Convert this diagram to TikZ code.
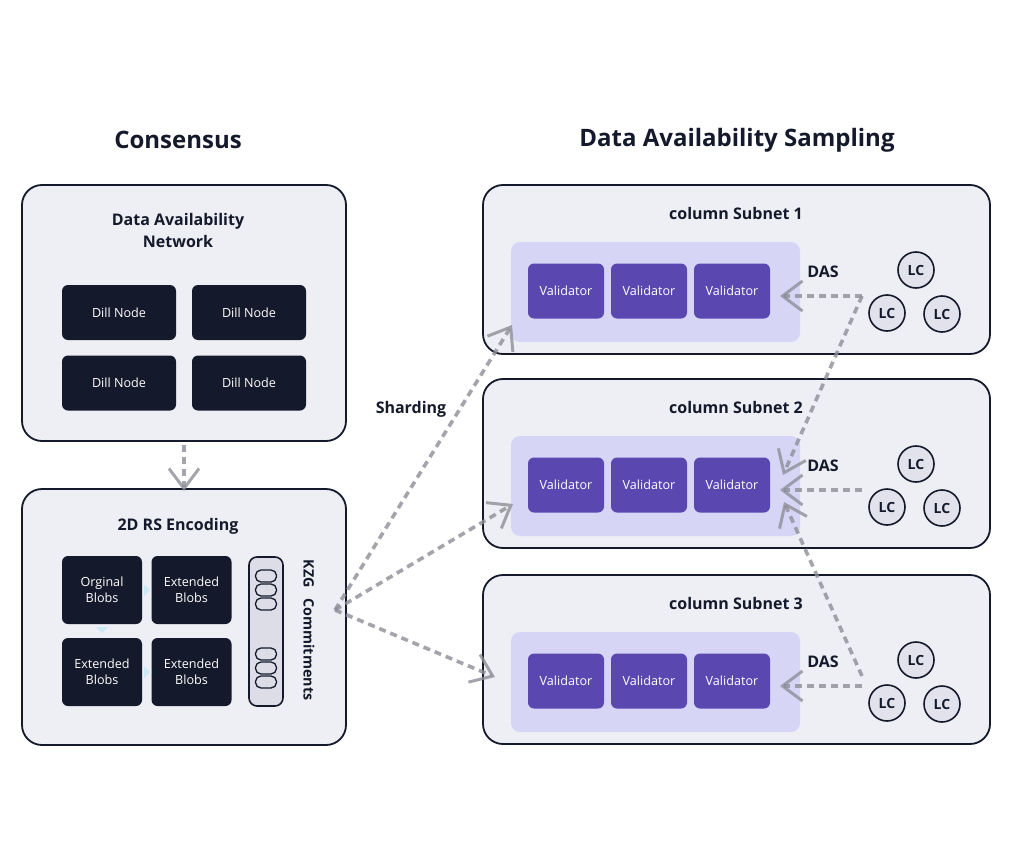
\documentclass[tikz,border=0pt]{standalone}
\usepackage{fontspec}
\setmainfont{Open Sans}
\usetikzlibrary{arrows.meta}
\definecolor{ink}{HTML}{141A2B}
\definecolor{panel}{HTML}{EEEFF4}
\definecolor{lav}{HTML}{D6D5F6}
\definecolor{vio}{HTML}{5A47B0}
\definecolor{lcfill}{HTML}{E1E2EB}
\definecolor{kzgfill}{HTML}{DCDDE6}
\definecolor{flowgray}{HTML}{8E8E98}
\tikzset{
  panelbox/.style={draw=ink, line width=1.8pt, fill=panel, rounded corners=20pt},
  darkbox/.style={fill=ink, rounded corners=6pt, text=white, font=\fontsize{12.6}{15.5}\selectfont, align=center},
  valbox/.style={fill=vio, rounded corners=6pt, text=white, font=\fontsize{12.6}{15}\selectfont, minimum width=76pt, minimum height=55pt},
  lavbox/.style={fill=lav, rounded corners=9pt, minimum width=289pt, minimum height=100pt},
  lcnode/.style={circle, draw=ink, line width=1.6pt, fill=lcfill, minimum size=36pt, inner sep=0pt, font=\bfseries\fontsize{14}{16}\selectfont, text=ink},
  heading/.style={font=\bfseries\fontsize{24}{28}\selectfont, text=ink},
  boxtitle/.style={font=\bfseries\fontsize{16}{22}\selectfont, text=ink, align=center},
  label/.style={font=\bfseries\fontsize{16}{18}\selectfont, text=ink},
  flow/.style={draw=flowgray, draw opacity=0.8, line width=3.6pt, dash pattern=on 7pt off 5pt,
    -{Straight Barb[length=20pt,width=30pt,line width=3pt]}},
  pill/.style={draw=ink, line width=1.3pt, rounded corners=5.5pt, minimum width=21pt, minimum height=12pt, inner sep=0pt},
}
\begin{document}
\begin{tikzpicture}[x=1pt,y=-1pt]
\useasboundingbox (0,0) rectangle (1020,864);
\fill[white] (0,0) rectangle (1020,864);

% headings
\node[heading] (hcons) at (178,140) {Consensus};
\node[heading] (hdas) at (737,140) {Data Availability Sampling};

% left panels
\node[panelbox, minimum width=324pt, minimum height=256pt] (dan) at (184,313) {};
\node[boxtitle] (dantitle) at (178,230) {Data Availability\\Network};
\node[darkbox, minimum width=114pt, minimum height=55pt] (d1) at (119,312.5) {Dill Node};
\node[darkbox, minimum width=114pt, minimum height=55pt] (d2) at (249,312.5) {Dill Node};
\node[darkbox, minimum width=114pt, minimum height=55pt] (d3) at (119,383) {Dill Node};
\node[darkbox, minimum width=114pt, minimum height=55pt] (d4) at (249,383) {Dill Node};

\node[panelbox, minimum width=324pt, minimum height=256pt] (rs) at (184,617) {};
\node[boxtitle] (rstitle) at (178,526) {2D RS Encoding};

% faint hints between blobs
\fill[cyan!35, opacity=0.45] (144,584) -- (150,590) -- (144,596) -- cycle;
\fill[cyan!35, opacity=0.45] (96,627) -- (108,627) -- (102,633) -- cycle;
\fill[cyan!35, opacity=0.45] (144,666) -- (150,672) -- (144,678) -- cycle;

\node[darkbox, minimum width=80pt, minimum height=68pt] (b1) at (102,590) {Orginal\\Blobs};
\node[darkbox, minimum width=80pt, minimum height=68pt] (b2) at (191.5,590) {Extended\\Blobs};
\node[darkbox, minimum width=80pt, minimum height=68pt] (b3) at (102,672) {Extended\\Blobs};
\node[darkbox, minimum width=80pt, minimum height=68pt] (b4) at (191.5,672) {Extended\\Blobs};

\node[draw=ink, line width=1.6pt, fill=kzgfill, rounded corners=8pt, minimum width=34pt, minimum height=149pt] (kzg) at (266,631.5) {};
\foreach \k/\yy in {1/576, 2/590, 3/604, 4/654, 5/668, 6/682}
  \node[pill] (p\k) at (266,\yy) {};
\node[label, rotate=-90, font=\bfseries\fontsize{14.3}{16}\selectfont] (kzgtxt) at (309,630) {KZG\hspace{11pt}Commitments};

% right panels
\foreach \i/\dy in {1/0, 2/194, 3/390} {
  \node[panelbox, minimum width=507pt, minimum height=169pt] (sn\i) at (736.5,269.5+\dy) {};
  \node[boxtitle] (st\i) at (736,213+\dy) {column Subnet \i};
  \node[lavbox] (lav\i) at (655.5,292+\dy) {};
  \node[valbox] (v\i a) at (566,291+\dy) {Validator};
  \node[valbox] (v\i b) at (649,291+\dy) {Validator};
  \node[valbox] (v\i c) at (732,291+\dy) {Validator};
  \node[lcnode] (lc\i a) at (916,270+\dy) {LC};
  \node[lcnode] (lc\i b) at (887,313+\dy) {LC};
  \node[lcnode] (lc\i c) at (942,314+\dy) {LC};
  \node[label] (das\i) at (823,272+\dy) {DAS};
  \coordinate (dc\i) at (862,296+\dy);
  \coordinate (dt\i) at (780,296+\dy);
  \draw[flow] (dc\i) -- (dt\i);
}

% cross DAS links
\coordinate (x12) at (783,475);
\coordinate (x32) at (784,502);
\coordinate (dc3b) at (862,676);
\draw[flow] (dc1) -- (x12);
\draw[flow] (dc3b) -- (x32);

% consensus arrow
\coordinate (dnA) at (184,445);
\coordinate (dnB) at (184,491);
\draw[flow] (dnA) -- (dnB);

% sharding
\coordinate (shard) at (335,610);
\coordinate (sh1) at (512,325);
\coordinate (sh2) at (513,504);
\coordinate (sh3) at (495,677);
\draw[flow] (shard) -- (sh1);
\draw[flow] (shard) -- (sh2);
\draw[flow] (shard) -- (sh3);
\node[label] (shardlbl) at (411,409) {Sharding};
\end{tikzpicture}
\end{document}
